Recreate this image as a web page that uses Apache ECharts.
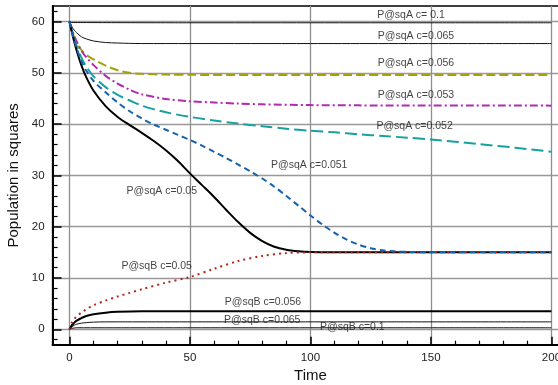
<!DOCTYPE html>
<html>
<head>
<meta charset="utf-8">
<script src="https://cdn.jsdelivr.net/npm/echarts@6/dist/echarts.min.js"></script>
<style>
html,body{margin:0;padding:0;background:#fff;}
#c{width:558px;height:385px;}
</style>
</head>
<body>
<div id="c"></div>
<script>
// ---- data ----
const xMajorTicks = [0, 50, 100, 150, 200];
const xMinorTicks = [10, 20, 30, 40, 60, 70, 80, 90, 110, 120, 130, 140, 160, 170, 180, 190];
const yMajorTicks = [0, 10, 20, 30, 40, 50, 60];
const yMinorTicks = [-2, 2, 4, 6, 8, 12, 14, 16, 18, 22, 24, 26, 28, 32, 34, 36, 38, 42, 44, 46, 48, 52, 54, 56, 58, 62];

const tA100 = [0, 50, 100, 150, 200];
const vA100 = [59.8, 59.75, 59.75, 59.75, 59.75];

const tA065 = [0, 1, 2, 3, 5, 7, 10, 15, 20, 30, 50, 100, 200];
const vA065 = [60, 59.0, 58.3, 57.8, 57.0, 56.6, 56.2, 55.9, 55.8, 55.7, 55.7, 55.7, 55.7];

const tA056 = [0, 1, 2, 3, 5, 7, 10, 15, 20, 25, 30, 40, 50, 100, 200];
const vA056 = [60, 58.3, 56.9, 55.8, 54.4, 53.5, 52.6, 51.4, 50.5, 50.0, 49.8, 49.65, 49.6, 49.55, 49.55];

const tA053 = [0, 1, 2, 3, 5, 7, 10, 15, 20, 25, 30, 40, 50, 60, 70, 80, 100, 120, 200];
const vA053 = [60, 58.5, 57.2, 56.1, 54.3, 53.0, 51.5, 49.4, 47.9, 46.7, 45.8, 44.9, 44.45, 44.2, 44.0, 43.85, 43.7, 43.65, 43.6];

const tA052 = [0, 1, 2, 3, 5, 7, 10, 15, 20, 25, 30, 35, 40, 50, 60, 70, 80, 90, 100, 110, 120, 130, 140, 150, 170, 185, 200];
const vA052 = [60, 58.2, 56.6, 55.2, 52.9, 51.2, 49.3, 47.2, 45.7, 44.6, 43.6, 42.9, 42.3, 41.4, 40.7, 40.1, 39.6, 39.1, 38.7, 38.4, 38.0, 37.7, 37.35, 37.0, 36.1, 35.4, 34.6];

const tA051 = [0, 1, 2, 3, 5, 7, 10, 15, 20, 25, 30, 35, 40, 45, 50, 55, 60, 65, 70, 75, 80, 85, 90, 95, 100, 105, 110, 115, 120, 125, 130, 135, 140, 150, 200];
const vA051 = [60, 58, 56.3, 54.8, 52.2, 50.4, 48.4, 46.2, 44.2, 42.5, 41.1, 39.9, 38.9, 37.9, 36.9, 35.8, 34.6, 33.4, 32.1, 30.8, 29.4, 27.8, 26.0, 24.1, 22.2, 20.4, 18.8, 17.5, 16.5, 15.8, 15.4, 15.2, 15.1, 15.0, 15.0];

const tA050 = [0, 1, 2, 3, 5, 7, 10, 15, 20, 25, 30, 35, 40, 45, 50, 55, 60, 65, 70, 75, 80, 85, 90, 95, 100, 110, 200];
const vA050 = [60, 57.9, 56.0, 54.3, 51.4, 49.1, 46.5, 43.5, 41.4, 39.8, 38.3, 36.7, 34.9, 32.8, 30.4, 28.1, 25.8, 23.3, 20.9, 18.8, 17.2, 16.1, 15.5, 15.2, 15.05, 15.0, 15.0];

const tB050 = [0, 1, 2, 3, 5, 7, 10, 15, 20, 25, 30, 40, 50, 60, 70, 80, 90, 100, 200];
const vB050 = [0, 1.3, 2.0, 2.5, 3.3, 3.9, 4.7, 5.6, 6.4, 7.1, 7.8, 9.1, 10.2, 11.8, 13.3, 14.3, 14.85, 15.0, 15.0];

const tB056 = [0, 1, 2, 3, 5, 7, 10, 15, 20, 30, 200];
const vB056 = [0, 0.8, 1.3, 1.7, 2.2, 2.6, 2.95, 3.25, 3.4, 3.5, 3.5];

const tB065 = [0, 1, 2, 3, 5, 7, 10, 15, 200];
const vB065 = [0, 0.5, 0.8, 1.0, 1.2, 1.3, 1.4, 1.45, 1.45];

const tB100 = [0, 1, 2, 3, 200];
const vB100 = [0, 0.2, 0.25, 0.3, 0.3];

const labelTexts = ['P@sqA c= 0.1', 'P@sqA c=0.065', 'P@sqA c=0.056', 'P@sqA c=0.053', 'P@sqA c=0.052',
  'P@sqA c=0.051', 'P@sqA c=0.05', 'P@sqB c=0.05', 'P@sqB c=0.056', 'P@sqB c=0.065', 'P@sqB c=0.1'];
const labelX = [141.7, 143.8, 143.8, 143.8, 143.2, 99.5, 38.3, 36.2, 80.3, 80.0, 117.4];
const labelY = [61.3, 57.2, 51.85, 45.7, 39.7, 32.0, 27.0, 12.35, 5.3, 1.8, 0.5];

// ---- chart ----
const FONT = '"Liberation Sans", Arial, Helvetica, sans-serif';
const zip = (t, v) => t.map((x, i) => [x, v[i]]);

function line(name, t, v, color, width, type) {
  return {
    name, type: 'line', xAxisIndex: 0, yAxisIndex: 0,
    data: zip(t, v), symbol: 'none', smooth: 0.3,
    lineStyle: { color, width, type: type || 'solid', cap: 'butt', join: 'round' },
    silent: true, z: 3
  };
}

const gridBox = { left: 52.6, top: 6.1, width: 515.7, height: 338.6, outerBoundsMode: 'none', containLabel: false };

const option = {
  animation: false,
  backgroundColor: '#fff',
  textStyle: { fontFamily: FONT },
  grid: [
    Object.assign({ show: true, borderColor: '#000', borderWidth: 1.5, backgroundColor: 'transparent' }, gridBox),
    Object.assign({ show: false }, gridBox)
  ],
  xAxis: [
    {
      gridIndex: 0, type: 'value', min: -7, max: 207,
      axisLine: { show: true, onZero: false, lineStyle: { color: '#000', width: 2 } },
      axisTick: { show: true, inside: true, length: 8, customValues: xMajorTicks, lineStyle: { color: '#000', width: 1.5 } },
      axisLabel: { show: true, customValues: xMajorTicks, fontSize: 11.5, color: '#222', margin: 7, fontFamily: FONT },
      splitLine: { show: true, lineStyle: { color: '#8e8e8e', width: 1.3 } },
      name: 'Time', nameLocation: 'middle', nameGap: 22,
      nameTextStyle: { fontSize: 15, color: '#111', fontFamily: FONT }
    },
    {
      gridIndex: 1, type: 'value', min: -7, max: 207,
      axisLine: { show: false, onZero: false },
      axisTick: { show: true, inside: true, length: 4, customValues: xMinorTicks, lineStyle: { color: '#000', width: 1.2 } },
      axisLabel: { show: false },
      splitLine: { show: false }
    }
  ],
  yAxis: [
    {
      gridIndex: 0, type: 'value', min: -3, max: 63,
      axisLine: { show: true, onZero: false, lineStyle: { color: '#000', width: 2 } },
      axisTick: { show: true, inside: true, length: 9, customValues: yMajorTicks, lineStyle: { color: '#000', width: 1.5 } },
      axisLabel: { show: true, customValues: yMajorTicks, fontSize: 11.5, color: '#222', margin: 8, fontFamily: FONT },
      splitLine: { show: true, lineStyle: { color: '#999', width: 1.4 } },
      name: 'Population in squares', nameLocation: 'middle', nameGap: 28,
      nameTextStyle: { fontSize: 15, color: '#111', fontFamily: FONT }
    },
    {
      gridIndex: 1, type: 'value', min: -3, max: 63,
      axisLine: { show: false, onZero: false },
      axisTick: { show: true, inside: true, length: 5, customValues: yMinorTicks, lineStyle: { color: '#000', width: 1.2 } },
      axisLabel: { show: false },
      splitLine: { show: false }
    }
  ],
  series: [
    line('A0.1', tA100, vA100, '#111', 1),
    line('A0.065', tA065, vA065, '#111', 1),
    line('A0.056', tA056, vA056, '#a3a10c', 2, [9, 4]),
    line('A0.053', tA053, vA053, '#b02bb0', 2, [8, 3, 2, 3]),
    line('A0.052', tA052, vA052, '#17a0a0', 2, [12, 5]),
    line('B0.1', tB100, vB100, '#111', 1),
    line('B0.065', tB065, vB065, '#111', 1),
    line('B0.056', tB056, vB056, '#000', 2),
    line('A0.05', tA050, vA050, '#000', 2),
    line('B0.05', tB050, vB050, '#b3261a', 2, [2, 4]),
    line('A0.051', tA051, vA051, '#1762ad', 2, [6, 4]),
    {
      name: 'labels', type: 'scatter', xAxisIndex: 0, yAxisIndex: 0,
      symbolSize: 0, silent: true, z: 5,
      data: labelTexts.map((s, i) => ({ value: [labelX[i], labelY[i]], name: s })),
      label: {
        show: true, position: 'inside', formatter: p => p.name,
        fontSize: 10.5, color: '#111', fontFamily: FONT
      }
    },
    {
      type: 'line', xAxisIndex: 1, yAxisIndex: 1, data: [], silent: true
    }
  ]
};

const chart = echarts.init(document.getElementById('c'), null, { renderer: 'canvas' });
chart.setOption(option);
</script>
</body>
</html>
